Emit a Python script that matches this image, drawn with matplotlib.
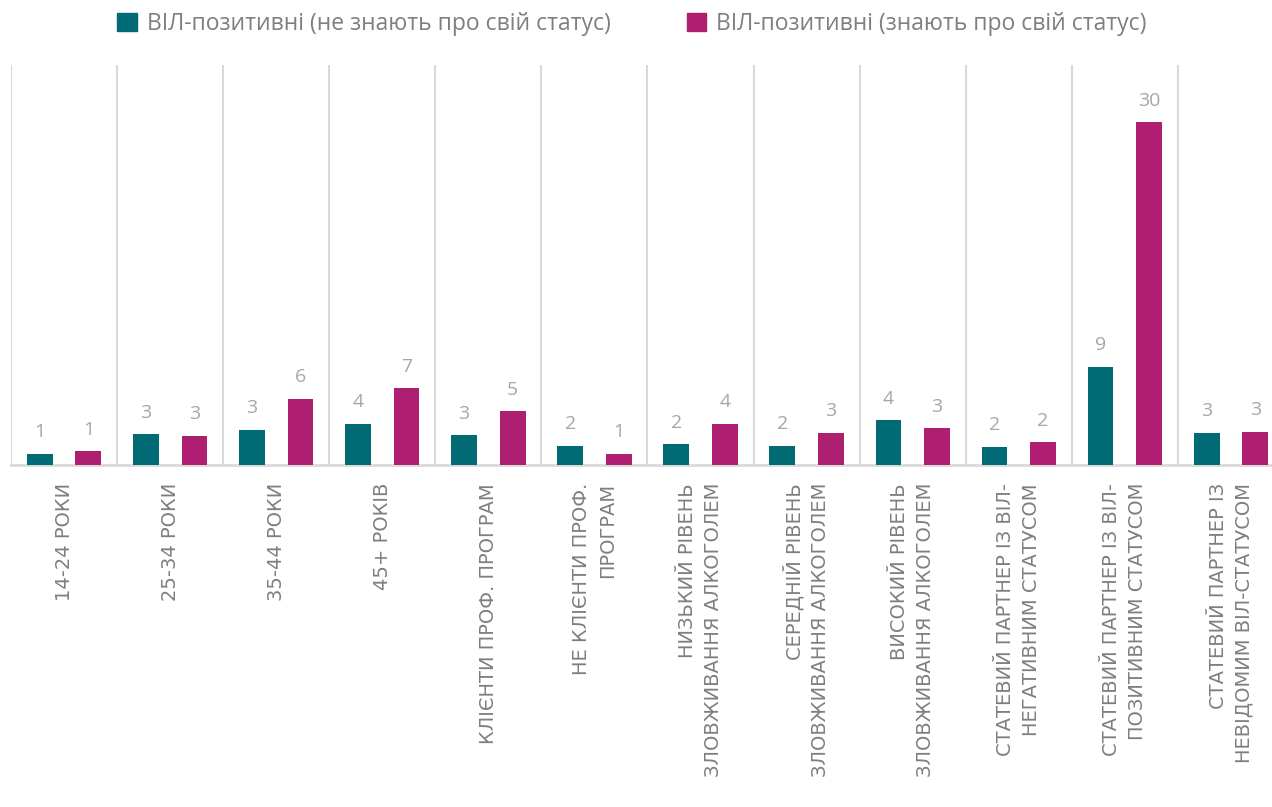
import numpy as np
import matplotlib.pyplot as plt
from matplotlib.patches import Patch

plt.rcParams['font.family'] = ['Open Sans', 'DejaVu Sans']

# Дані ########################################################################
categories = ['14-24 РОКИ', '25-34 РОКИ', '35-44 РОКИ', '45+ РОКІВ',
              'КЛІЄНТИ ПРОФ. ПРОГРАМ', 'НЕ КЛІЄНТИ ПРОФ.\nПРОГРАМ',
              'НИЗЬКИЙ РІВЕНЬ\nЗЛОВЖИВАННЯ АЛКОГОЛЕМ',
              'СЕРЕДНІЙ РІВЕНЬ\nЗЛОВЖИВАННЯ АЛКОГОЛЕМ',
              'ВИСОКИЙ РІВЕНЬ\nЗЛОВЖИВАННЯ АЛКОГОЛЕМ',
              'СТАТЕВИЙ ПАРТНЕР ІЗ ВІЛ-\nНЕГАТИВНИМ СТАТУСОМ',
              'СТАТЕВИЙ ПАРТНЕР ІЗ ВІЛ-\nПОЗИТИВНИМ СТАТУСОМ',
              'СТАТЕВИЙ ПАРТНЕР ІЗ\nНЕВІДОМИМ ВІЛ-СТАТУСОМ']
not_aware = [1.0, 2.7, 3.1, 3.6, 2.6, 1.7, 1.8, 1.7, 3.9, 1.6, 8.6, 2.8]
aware     = [1.2, 2.55, 5.8, 6.7, 4.7, 1.0, 3.6, 2.8, 3.2, 2.0, 30.0, 2.9]
series_names = ['ВІЛ-позитивні (не знають про свій статус)',
                'ВІЛ-позитивні (знають про свій статус)']

teal, magenta = '#006A75', '#AE1F72'
grid_c = '#D9D9D9'

# Графік ######################################################################
fig = plt.figure(figsize=(12.72, 8.07), dpi=100)
ax = fig.add_axes([11/1272, 1 - 465/807, 1273/1272, 400/807])

x = np.arange(len(categories))
off, w = 0.229, 0.242
b1 = ax.bar(x - off, not_aware, w, color=teal, zorder=3)
b2 = ax.bar(x + off, aware, w, color=magenta, zorder=3)

for b in (b1, b2):
    ax.bar_label(b, fmt='{:.0f}', padding=9, fontsize=14, color='#A6A6A6')

ax.set_xlim(-0.5, len(categories) - 0.5)
ax.set_ylim(0, 35)
ax.set_yticks([])

ax.set_xticks(x)
ax.set_xticklabels(categories, rotation=90, ha='center', va='top',
                   multialignment='right', linespacing=1.45,
                   fontsize=14, color='#7F7F7F', family='DejaVu Sans')
ax.tick_params(axis='x', which='major', length=0, pad=13)

# вертикальні лінії між категоріями
ax.set_xticks(np.arange(-0.5, len(categories)), minor=True)
ax.tick_params(axis='x', which='minor', length=0)
ax.grid(which='minor', axis='x', color=grid_c, lw=1.5)
ax.set_axisbelow(True)

for s in ['top', 'right', 'left']:
    ax.spines[s].set_visible(False)
ax.spines['bottom'].set_color(grid_c)
ax.spines['bottom'].set_linewidth(2)

handles = [Patch(color=teal), Patch(color=magenta)]
fig.legend(handles, series_names, loc='center', bbox_to_anchor=(0.497, 0.970),
           ncol=2, frameon=False, fontsize=16.5, labelcolor='#7F7F7F',
           handlelength=0.85, handleheight=0.85, handletextpad=0.45,
           columnspacing=3.3)

fig.savefig('out.png', dpi=100)
